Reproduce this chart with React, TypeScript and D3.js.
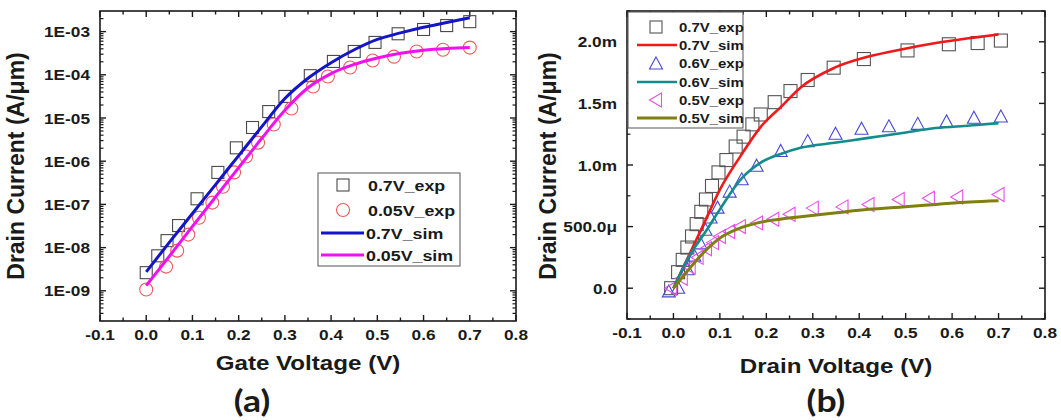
import React from 'react';
import * as d3 from 'd3';

// ---------- (a) transfer characteristics: gate voltage (V) vs drain current (A/μm) ----------
const gateVExp07 = [0, 0.025, 0.045, 0.07, 0.11, 0.155, 0.195, 0.23, 0.265, 0.3, 0.355, 0.405, 0.45, 0.495, 0.545, 0.6, 0.65, 0.7];
const gateIExp07 = [2.63e-9, 6.46e-9, 1.45e-8, 3.24e-8, 1.35e-7, 5.5e-7, 2.04e-6, 6.03e-6, 1.41e-5, 3.16e-5, 9.55e-5, 2.04e-4, 3.47e-4, 5.62e-4, 8.91e-4, 1.12e-3, 1.38e-3, 1.7e-3];
const gateVExp005 = [0, 0.043, 0.067, 0.091, 0.114, 0.143, 0.166, 0.19, 0.216, 0.242, 0.276, 0.314, 0.361, 0.393, 0.441, 0.49, 0.536, 0.585, 0.642, 0.7];
const gateIExp005 = [1.07e-9, 3.63e-9, 8.5e-9, 2.0e-8, 4.9e-8, 1.1e-7, 2.57e-7, 5.5e-7, 1.29e-6, 2.69e-6, 7.08e-6, 1.66e-5, 5.37e-5, 9.12e-5, 1.48e-4, 2.14e-4, 2.63e-4, 3.47e-4, 3.8e-4, 4.27e-4];
const gateVSim = [0, 0.05, 0.1, 0.15, 0.2, 0.25, 0.3, 0.35, 0.4, 0.45, 0.5, 0.55, 0.6, 0.65, 0.7];
const gateISim07 = [2.75e-9, 1.32e-8, 6.17e-8, 2.88e-7, 1.35e-6, 6.31e-6, 2.82e-5, 8.32e-5, 1.91e-4, 3.8e-4, 6.61e-4, 9.33e-4, 1.26e-3, 1.62e-3, 2.09e-3];
const gateISim005 = [1.32e-9, 6.31e-9, 3.09e-8, 1.48e-7, 7.08e-7, 3.39e-6, 1.51e-5, 5.01e-5, 1.07e-4, 1.74e-4, 2.45e-4, 3.16e-4, 3.72e-4, 4.07e-4, 4.27e-4];
const logTicksA = [1e-9, 1e-8, 1e-7, 1e-6, 1e-5, 1e-4, 1e-3];
const logTickLabelsA = ['1E-09', '1E-08', '1E-07', '1E-06', '1E-05', '1E-04', '1E-03'];

// ---------- (b) output characteristics: drain voltage (V) vs drain current (mA/μm) ----------
const drainVExp07 = [-0.005, 0.01, 0.02, 0.03, 0.04, 0.05, 0.06, 0.07, 0.083, 0.097, 0.114, 0.134, 0.151, 0.17, 0.188, 0.218, 0.252, 0.289, 0.345, 0.41, 0.504, 0.593, 0.655, 0.705];
const drainIExp07 = [0.0, 0.13, 0.23, 0.33, 0.42, 0.52, 0.62, 0.72, 0.83, 0.94, 1.04, 1.15, 1.23, 1.33, 1.41, 1.51, 1.6, 1.69, 1.79, 1.86, 1.93, 1.98, 1.99, 2.01];
const drainVExp06 = [-0.01, 0.01, 0.03, 0.045, 0.058, 0.069, 0.08, 0.095, 0.121, 0.147, 0.179, 0.231, 0.289, 0.349, 0.405, 0.464, 0.526, 0.588, 0.647, 0.705];
const drainIExp06 = [-0.03, 0.0, 0.15, 0.26, 0.36, 0.47, 0.57, 0.65, 0.78, 0.88, 0.99, 1.11, 1.19, 1.25, 1.29, 1.31, 1.33, 1.35, 1.38, 1.39];
const drainVExp05 = [-0.005, 0.018, 0.035, 0.052, 0.07, 0.085, 0.1, 0.12, 0.143, 0.18, 0.215, 0.25, 0.3, 0.364, 0.42, 0.485, 0.55, 0.611, 0.7];
const drainIExp05 = [0.0, 0.08, 0.17, 0.25, 0.32, 0.37, 0.42, 0.46, 0.5, 0.53, 0.56, 0.6, 0.65, 0.66, 0.68, 0.72, 0.73, 0.74, 0.76];
const drainVSim07 = [0, 0.03, 0.07, 0.1, 0.144, 0.188, 0.231, 0.274, 0.347, 0.42, 0.493, 0.565, 0.638, 0.7];
const drainISim07 = [0, 0.24, 0.56, 0.8, 1.07, 1.31, 1.47, 1.63, 1.79, 1.88, 1.94, 1.99, 2.03, 2.06];
const drainVSim06 = [0, 0.03, 0.073, 0.1, 0.144, 0.188, 0.231, 0.274, 0.347, 0.42, 0.493, 0.565, 0.638, 0.7];
const drainISim06 = [0, 0.235, 0.48, 0.64, 0.88, 1.02, 1.09, 1.14, 1.18, 1.22, 1.26, 1.3, 1.32, 1.34];
const drainVSim05 = [0, 0.037, 0.065, 0.101, 0.138, 0.181, 0.23, 0.274, 0.347, 0.42, 0.493, 0.565, 0.638, 0.7];
const drainISim05 = [0, 0.17, 0.29, 0.41, 0.48, 0.53, 0.56, 0.58, 0.61, 0.64, 0.66, 0.68, 0.7, 0.71];
const linTicksB = [0, 0.5, 1.0, 1.5, 2.0];
const linTickLabelsB = ['0.0', '500.0μ', '1.0m', '1.5m', '2.0m'];

const voltTicks = [-0.1, 0, 0.1, 0.2, 0.3, 0.4, 0.5, 0.6, 0.7, 0.8];

const FONT = 'Liberation Sans, Arial, sans-serif';
const SX = 1.15;
const INK = '#1a1a1a';

type TProps = { x: number; y: number; size: number; anchor?: string; weight?: string; family?: string; fill?: string; vertical?: boolean; children: React.ReactNode };
function T({ x, y, size, anchor = 'start', weight = 'bold', family = FONT, fill = INK, vertical = false, children }: TProps) {
  const tf = vertical ? `translate(${x},${y}) rotate(-90)` : `translate(${x},${y}) scale(${SX},1)`;
  return (
    <text transform={tf} fontSize={size} fontWeight={weight} fontFamily={family} textAnchor={anchor as any} fill={fill}>
      {children}
    </text>
  );
}

const zip = (xs: number[], ys: number[]) => xs.map((x, i) => [x, ys[i]] as [number, number]);

function Frame({ left, right, top, bottom }: { left: number; right: number; top: number; bottom: number }) {
  return <rect x={left} y={top} width={right - left} height={bottom - top} fill="none" stroke={INK} strokeWidth={1.6} />;
}

function VoltAxis({ x, top, bottom }: { x: d3.ScaleLinear<number, number>; top: number; bottom: number }) {
  const minors = d3.range(-0.1, 0.81, 0.05);
  return (
    <g>
      {minors.map((v, i) => {
        const major = i % 2 === 0;
        const len = major ? 6 : 3.5;
        const px = x(v);
        return (
          <g key={i}>
            <line x1={px} x2={px} y1={bottom} y2={bottom - len} stroke={INK} strokeWidth={1.4} />
            <line x1={px} x2={px} y1={top} y2={top + len} stroke={INK} strokeWidth={1.4} />
          </g>
        );
      })}
      {voltTicks.map((v) => (
        <T key={v} x={x(v)} y={bottom + 19} size={15} anchor="middle">
          {d3.format('.1f')(v).replace('\u2212', '-')}
        </T>
      ))}
    </g>
  );
}

function PanelA() {
  const L = 100, R = 516, TOP = 11, B = 321;
  const x = d3.scaleLinear().domain([-0.1, 0.8]).range([L, R]);
  const y = d3.scaleLog().domain([2e-10, 3e-3]).range([B, TOP]);
  const line = d3.line<[number, number]>().x((d) => x(d[0])).y((d) => y(d[1])).curve(d3.curveMonotoneX);
  const minorY: number[] = [];
  for (let e = -10; e <= -3; e++) for (let k = 2; k <= 9; k++) {
    const v = k * Math.pow(10, e);
    if (v > 2e-10 && v < 3e-3) minorY.push(v);
  }
  const sq = 12;
  return (
    <g>
      <Frame left={L} right={R} top={TOP} bottom={B} />
      {minorY.map((v, i) => (
        <g key={i}>
          <line x1={L} x2={L + 3.5} y1={y(v)} y2={y(v)} stroke={INK} strokeWidth={1.2} />
          <line x1={R} x2={R - 3.5} y1={y(v)} y2={y(v)} stroke={INK} strokeWidth={1.2} />
        </g>
      ))}
      {logTicksA.map((v, i) => (
        <g key={v}>
          <line x1={L} x2={L + 6} y1={y(v)} y2={y(v)} stroke={INK} strokeWidth={1.4} />
          <line x1={R} x2={R - 6} y1={y(v)} y2={y(v)} stroke={INK} strokeWidth={1.4} />
          <T x={L - 10} y={y(v) + 5.5} size={15} anchor="end">{logTickLabelsA[i]}</T>
        </g>
      ))}
      <VoltAxis x={x} top={TOP} bottom={B} />

      {zip(gateVExp07, gateIExp07).map(([v, i], k) => (
        <rect key={k} x={x(v) - sq / 2} y={y(i) - sq / 2} width={sq} height={sq} fill="none" stroke="#4a4a4a" strokeWidth={1.1} />
      ))}
      {zip(gateVExp005, gateIExp005).map(([v, i], k) => (
        <circle key={k} cx={x(v)} cy={y(i)} r={6.5} fill="none" stroke="#f05a5a" strokeWidth={1.1} />
      ))}
      <path d={line(zip(gateVSim, gateISim07)) || ''} fill="none" stroke="#1414c8" strokeWidth={3} />
      <path d={line(zip(gateVSim, gateISim005)) || ''} fill="none" stroke="#f010f0" strokeWidth={3} />

      {/* legend */}
      <rect x={318} y={173} width={142} height={93} fill="#fff" stroke="#555" strokeWidth={1} />
      <rect x={343 - 6} y={185 - 6} width={12} height={12} fill="none" stroke="#4a4a4a" strokeWidth={1.1} />
      <T x={368} y={191} size={15.5}>0.7V_exp</T>
      <circle cx={343} cy={210} r={6.5} fill="none" stroke="#f05a5a" strokeWidth={1.1} />
      <T x={368} y={216} size={15.5}>0.05V_exp</T>
      <line x1={321} x2={364} y1={233} y2={233} stroke="#1414c8" strokeWidth={3} />
      <T x={366} y={239} size={15.5}>0.7V_sim</T>
      <line x1={321} x2={364} y1={255} y2={255} stroke="#f010f0" strokeWidth={3} />
      <T x={366} y={261} size={15.5}>0.05V_sim</T>

      <T x={24} y={166} size={23} anchor="middle" vertical>Drain Current (A/μm)</T>
      <T x={(L + R) / 2} y={370} size={21} anchor="middle">Gate Voltage (V)</T>
      <T x={252} y={412} size={31} anchor="middle" family="Lato, Open Sans, sans-serif">(a)</T>
    </g>
  );
}

function PanelB() {
  const L = 627, R = 1045, TOP = 11, B = 319;
  const x = d3.scaleLinear().domain([-0.1, 0.8]).range([L, R]);
  const y = d3.scaleLinear().domain([-0.25, 2.25]).range([B, TOP]);
  const line = d3.line<[number, number]>().x((d) => x(d[0])).y((d) => y(d[1])).curve(d3.curveMonotoneX);
  const minorY = d3.range(-0.25, 2.26, 0.25).filter((v) => Math.abs(v * 2 - Math.round(v * 2)) > 0.01);
  const sq = 13;
  const upTri = (cx: number, cy: number) => `M${cx},${cy - 7}L${cx + 6.5},${cy + 5}L${cx - 6.5},${cy + 5}Z`;
  const leftTri = (cx: number, cy: number) => `M${cx - 6.5},${cy}L${cx + 5.5},${cy - 7}L${cx + 5.5},${cy + 7}Z`;
  return (
    <g>
      <Frame left={L} right={R} top={TOP} bottom={B} />
      {minorY.map((v, i) => (
        <g key={i}>
          <line x1={L} x2={L + 3.5} y1={y(v)} y2={y(v)} stroke={INK} strokeWidth={1.2} />
          <line x1={R} x2={R - 3.5} y1={y(v)} y2={y(v)} stroke={INK} strokeWidth={1.2} />
        </g>
      ))}
      {linTicksB.map((v, i) => (
        <g key={v}>
          <line x1={L} x2={L + 6} y1={y(v)} y2={y(v)} stroke={INK} strokeWidth={1.4} />
          <line x1={R} x2={R - 6} y1={y(v)} y2={y(v)} stroke={INK} strokeWidth={1.4} />
          <T x={L - 10} y={y(v) + 5.5} size={15} anchor="end">{linTickLabelsB[i]}</T>
        </g>
      ))}
      <VoltAxis x={x} top={TOP} bottom={B} />

      {zip(drainVExp07, drainIExp07).map(([v, i], k) => (
        <rect key={k} x={x(v) - sq / 2} y={y(i) - sq / 2} width={sq} height={sq} fill="none" stroke="#555" strokeWidth={1.1} />
      ))}
      {zip(drainVExp06, drainIExp06).map(([v, i], k) => (
        <path key={k} d={upTri(x(v), y(i))} fill="none" stroke="#4848d8" strokeWidth={1.1} />
      ))}
      {zip(drainVExp05, drainIExp05).map(([v, i], k) => (
        <path key={k} d={leftTri(x(v), y(i))} fill="none" stroke="#e850e8" strokeWidth={1.1} />
      ))}
      <path d={line(zip(drainVSim07, drainISim07)) || ''} fill="none" stroke="#f01818" strokeWidth={2.6} />
      <path d={line(zip(drainVSim06, drainISim06)) || ''} fill="none" stroke="#128c8c" strokeWidth={2.6} />
      <path d={line(zip(drainVSim05, drainISim05)) || ''} fill="none" stroke="#808010" strokeWidth={3} />

      {/* legend */}
      <rect x={628} y={12} width={115} height={116} fill="#fff" stroke="#555" strokeWidth={1} />
      <rect x={656 - 6} y={27 - 6} width={12} height={12} fill="none" stroke="#555" strokeWidth={1.1} />
      <T x={679} y={32} size={13}>0.7V_exp</T>
      <line x1={637} x2={677} y1={45} y2={45} stroke="#f01818" strokeWidth={2.6} />
      <T x={679} y={50} size={13}>0.7V_sim</T>
      <path d={upTri(656, 64)} fill="none" stroke="#4848d8" strokeWidth={1.1} />
      <T x={679} y={68} size={13}>0.6V_exp</T>
      <line x1={637} x2={677} y1={82} y2={82} stroke="#128c8c" strokeWidth={2.6} />
      <T x={679} y={87} size={13}>0.6V_sim</T>
      <path d={leftTri(656, 100)} fill="none" stroke="#e850e8" strokeWidth={1.1} />
      <T x={679} y={105} size={13}>0.5V_exp</T>
      <line x1={637} x2={677} y1={118} y2={118} stroke="#808010" strokeWidth={3} />
      <T x={679} y={123} size={13}>0.5V_sim</T>

      <T x={556} y={166} size={23} anchor="middle" vertical>Drain Current (A/μm)</T>
      <T x={(L + R) / 2} y={373} size={21} anchor="middle">Drain Voltage (V)</T>
      <T x={826} y={412} size={31} anchor="middle" family="Lato, Open Sans, sans-serif">(b)</T>
    </g>
  );
}

export default function App() {
  return (
    <svg width={1061} height={420} style={{ position: 'absolute', left: 0, top: 0, background: '#fff' }}>
      <rect width={1061} height={420} fill="#fff" />
      <PanelA />
      <PanelB />
    </svg>
  );
}
